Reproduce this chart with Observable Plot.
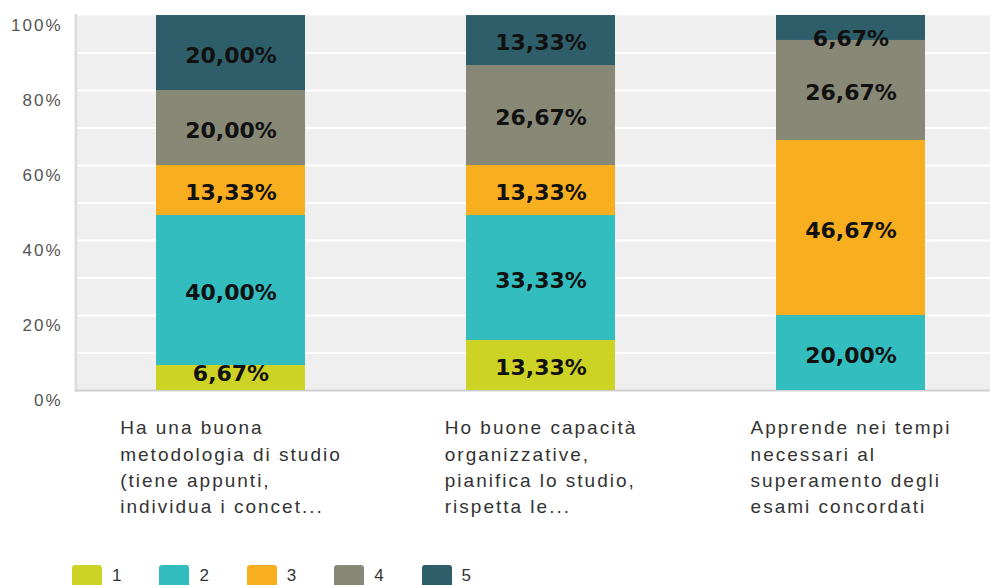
<!DOCTYPE html>
<html>
<head>
<meta charset="utf-8">
<script src="https://cdn.jsdelivr.net/npm/d3@7"></script>
<script src="https://cdn.jsdelivr.net/npm/@observablehq/plot@0.6"></script>
<style>
  html, body { margin: 0; padding: 0; background: #fff; width: 990px; height: 585px; overflow: hidden; }
  #wrap { position: relative; width: 990px; height: 585px; }
  #chart svg { display: block; }
  g[aria-label="y-axis tick label"] text { letter-spacing: 2px; }
  g[aria-label="x-axis tick label"] text { letter-spacing: 2px; }
  #legend { position: absolute; left: 72px; top: 565px; display: flex; font-family: "Liberation Sans", Arial, sans-serif; font-size: 17px; color: #333; }
  .item { width: 87.4px; display: flex; align-items: flex-start; }
  .sw { width: 30px; height: 24px; border-radius: 3px; }
  .lb { margin-left: 10px; line-height: 22px; }
</style>
</head>
<body>
<div id="wrap">
  <div id="chart"></div>
  <div id="legend"></div>
</div>
<script>
// ---- data ----
const categories = [
  "Ha una buona\nmetodologia di studio\n(tiene appunti,\nindividua i concet...",
  "Ho buone capacità\norganizzative,\npianifica lo studio,\nrispetta le...",
  "Apprende nei tempi\nnecessari al\nsuperamento degli\nesami concordati"
];
const levels = ["1", "2", "3", "4", "5"];
const levelColors = ["#cdd325", "#33bdbe", "#f7ae1f", "#888877", "#2f5e6b"];
const level1 = [6.67, 13.33, 0];
const level2 = [40.00, 33.33, 20.00];
const level3 = [13.33, 13.33, 46.67];
const level4 = [20.00, 26.67, 26.67];
const level5 = [20.00, 13.33, 6.67];
const yTicks = [0, 20, 40, 60, 80, 100];
const gridTicks = [10, 20, 30, 40, 50, 60, 70, 80, 90];

// ---- build table ----
const series = [level1, level2, level3, level4, level5];
const rows = [];
categories.forEach((cat, i) => {
  levels.forEach((lv, j) => rows.push({cat, level: lv, value: series[j][i]}));
});
// label positions (midpoints of stacked segments, kept inside the plot)
const labels = [];
categories.forEach((cat, i) => {
  let acc = 0;
  levels.forEach((lv, j) => {
    const v = series[j][i];
    if (v > 0) {
      const mid = acc + v / 2;
      labels.push({cat, y: Math.max(5, Math.min(94.3, mid)), text: v.toFixed(2).replace(".", ",") + "%"});
    }
    acc += v;
  });
});

const chart = Plot.plot({
  width: 990,
  height: 545,
  marginLeft: 77,
  marginRight: 0,
  marginTop: 15,
  marginBottom: 155,
  style: {fontFamily: "'Liberation Sans', Arial, sans-serif", fontSize: "16px", background: "#fff", color: "#333"},
  x: {domain: categories, range: [75, 1005], paddingInner: 0.52, paddingOuter: 0.26, label: null},
  y: {domain: [0, 100], label: null},
  color: {domain: levels, range: levelColors},
  marks: [
    Plot.frame({fill: "#efefef", stroke: null}),
    Plot.gridY(gridTicks, {stroke: "#fff", strokeOpacity: 1, strokeWidth: 2}),
    Plot.frame({anchor: "left", stroke: "#dddddd", strokeWidth: 3, dx: -1.5}),
    Plot.frame({anchor: "bottom", stroke: "#cfcfcf", strokeWidth: 2}),
    Plot.barY(rows, {x: "cat", y: "value", fill: "level"}),
    Plot.text(labels, {x: "cat", y: "y", text: "text", fontSize: 22, fontWeight: "bold", fontFamily: "DejaVu Sans", fill: "#111", dy: 2.5}),
    Plot.axisY(yTicks, {tickSize: 0, tickPadding: 15, dy: 10, fontSize: 17, fill: "#555", label: null, tickFormat: d => d + "%"}),
    Plot.axisX({tickSize: 0, tickPadding: 25, textAnchor: "start", lineHeight: 1.39, fontSize: 19, fill: "#333", stroke: "#333", strokeWidth: 0.35, label: null})
  ]
});
document.getElementById("chart").appendChild(chart);

// center each multi-line x label block on its band (lines stay left-aligned)
chart.querySelectorAll('g[aria-label="x-axis tick label"] text').forEach(t => {
  const w = t.getBBox().width;
  t.setAttribute("transform", (t.getAttribute("transform") || "") + ` translate(${-w / 2},0)`);
});

// legend
const legend = document.getElementById("legend");
levels.forEach((lv, i) => {
  const item = document.createElement("div");
  item.className = "item";
  item.innerHTML = `<div class="sw" style="background:${levelColors[i]}"></div><div class="lb">${lv}</div>`;
  legend.appendChild(item);
});
</script>
</body>
</html>
